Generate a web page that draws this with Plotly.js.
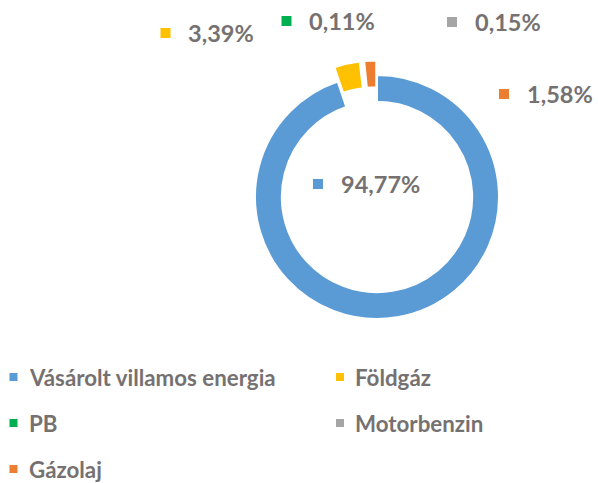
<!DOCTYPE html>
<html><head><meta charset="utf-8">
<script src="https://cdn.plot.ly/plotly-3.0.1.min.js"></script>
<style>html,body{margin:0;padding:0;background:#fff}#chart{width:598px;height:483px}</style>
</head><body><div id="chart"></div>
<script>
// ---- data ----
const categories = ['Vásárolt villamos energia', 'Földgáz', 'PB', 'Motorbenzin', 'Gázolaj'];
const shares = [94.77, 3.39, 0.11, 0.15, 1.58];
const colors = ['#5B9BD5', '#FFC000', '#00B050', '#A5A5A5', '#ED7D31'];

// ---- layout helpers (positions only) ----
const W = 598, H = 483;
const px = x => x / W, py = y => 1 - y / H;
const pulls = [0, 0.12, 0.12, 0.12, 0.12];
const labelSquares = [[318, 184], [165.5, 33], [286.5, 21], [452, 22], [504, 94]];
const legendSquares = [[13.5, 377], [340, 377], [13.5, 423], [340, 423], [13.5, 469]];
const textColor = '#767171';
const fontFam = 'Lato, "Open Sans", sans-serif';

const cx = 377, cy = 197, r = 122, maxPull = 0.12;
const half = r * (1 + maxPull);

const fmt = v => v.toFixed(2).replace('.', ',') + '%';

const annotations = [];
const shapes = [];
categories.forEach((c, i) => {
  const [lx, ly] = labelSquares[i];
  shapes.push({type: 'rect', xref: 'paper', yref: 'paper',
    x0: px(lx - 5), x1: px(lx + 5), y0: py(ly + 5), y1: py(ly - 5),
    fillcolor: colors[i], line: {width: 0}});
  annotations.push({xref: 'paper', yref: 'paper', x: px(lx + 20.5), y: py(ly),
    xanchor: 'left', yanchor: 'middle', showarrow: false, text: '<b>' + fmt(shares[i]) + '</b>',
    font: {family: fontFam, size: 23.5, color: textColor}});
  const [gx, gy] = legendSquares[i];
  shapes.push({type: 'rect', xref: 'paper', yref: 'paper',
    x0: px(gx - 4), x1: px(gx + 4), y0: py(gy + 4), y1: py(gy - 4),
    fillcolor: colors[i], line: {width: 0}});
  annotations.push({xref: 'paper', yref: 'paper', x: px(gx + 13), y: py(gy),
    xanchor: 'left', yanchor: 'middle', showarrow: false, text: '<b>' + c + '</b>',
    font: {family: fontFam, size: 22.3, color: textColor}});
});

const trace = {
  type: 'pie',
  labels: categories,
  values: shares,
  hole: 0.78,
  sort: false,
  direction: 'clockwise',
  rotation: 0,
  pull: pulls,
  textinfo: 'none',
  hoverinfo: 'label+percent',
  marker: {colors: colors, line: {color: '#ffffff', width: 2}},
  domain: {x: [px(cx - half), px(cx + half)], y: [py(cy + half), py(cy - half)]},
  showlegend: false
};

const layout = {
  width: W, height: H,
  margin: {l: 0, r: 0, t: 0, b: 0},
  paper_bgcolor: '#ffffff',
  plot_bgcolor: '#ffffff',
  showlegend: false,
  annotations: annotations,
  shapes: shapes
};

Plotly.newPlot('chart', [trace], layout, {displayModeBar: false, staticPlot: true});
</script>
</body></html>
